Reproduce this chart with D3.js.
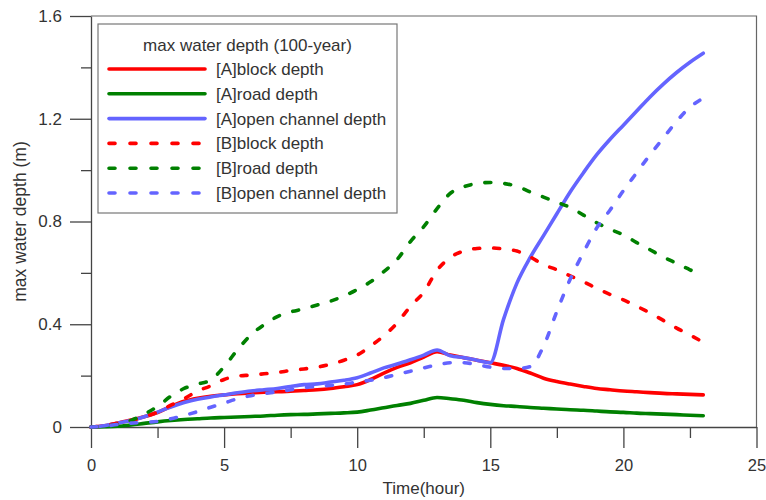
<!DOCTYPE html>
<html>
<head>
<meta charset="utf-8">
<script src="https://cdn.jsdelivr.net/npm/d3@7"></script>
<style>
  body { margin: 0; background: #fff; }
  text { font-family: "Liberation Sans", Arial, sans-serif; fill: #333; }
</style>
</head>
<body>
<div id="chart"></div>
<script>
// time in hours (half-hour steps)
var hours = [0,0.5,1,1.5,2,2.5,3,3.5,4,4.5,5,5.5,6,6.5,7,7.5,8,8.5,9,9.5,10,10.5,11,11.5,
             12,12.5,13,13.5,14,14.5,15,15.5,16,16.5,17,17.5,18,18.5,19,19.5,20,20.5,21,21.5,22,22.5,23];

var aBlock = [0,0.005,0.015,0.027,0.04,0.056,0.08,0.1,0.112,0.12,0.125,0.13,0.133,0.135,0.137,0.139,0.142,0.145,0.15,0.157,0.165,0.185,0.21,0.232,
              0.25,0.272,0.293,0.28,0.27,0.26,0.25,0.24,0.228,0.21,0.19,0.177,0.167,0.158,0.15,0.145,0.14,0.137,0.134,0.131,0.129,0.127,0.125];
var aRoad = [0,0.001,0.003,0.008,0.014,0.02,0.025,0.029,0.032,0.035,0.037,0.039,0.041,0.043,0.046,0.048,0.049,0.051,0.053,0.055,0.058,0.066,0.075,0.084,
             0.092,0.104,0.115,0.11,0.104,0.095,0.088,0.083,0.08,0.076,0.073,0.07,0.067,0.065,0.062,0.059,0.057,0.054,0.052,0.05,0.048,0.046,0.044];
var aChannel = [0,0.005,0.015,0.025,0.04,0.058,0.078,0.095,0.108,0.117,0.125,0.133,0.14,0.145,0.15,0.158,0.165,0.168,0.175,0.182,0.192,0.21,0.23,0.245,
                0.262,0.28,0.3,0.277,0.27,0.26,0.25,0.42,0.56,0.66,0.745,0.83,0.915,0.99,1.06,1.12,1.175,1.23,1.285,1.335,1.38,1.42,1.455];
var bBlock = [0,0.005,0.015,0.025,0.04,0.058,0.085,0.11,0.14,0.16,0.185,0.198,0.202,0.207,0.212,0.22,0.226,0.233,0.244,0.26,0.28,0.315,0.355,0.405,
              0.47,0.525,0.61,0.66,0.685,0.695,0.697,0.693,0.685,0.662,0.632,0.612,0.588,0.565,0.54,0.516,0.495,0.47,0.444,0.415,0.385,0.358,0.33];
var bRoad = [0,0.003,0.01,0.025,0.05,0.08,0.12,0.15,0.167,0.183,0.235,0.3,0.358,0.398,0.43,0.448,0.46,0.475,0.49,0.51,0.535,0.565,0.605,0.652,
             0.722,0.78,0.85,0.91,0.935,0.948,0.952,0.948,0.937,0.915,0.895,0.875,0.855,0.825,0.795,0.77,0.748,0.718,0.69,0.662,0.637,0.612,0.59];
var bChannel = [0,0.003,0.01,0.015,0.018,0.022,0.032,0.045,0.06,0.077,0.093,0.11,0.122,0.13,0.137,0.145,0.153,0.158,0.162,0.167,0.175,0.182,0.192,0.205,
                0.217,0.23,0.242,0.25,0.25,0.243,0.233,0.228,0.228,0.235,0.315,0.45,0.575,0.68,0.775,0.845,0.92,0.99,1.06,1.125,1.19,1.245,1.28];

var seriesNames = ["[A]block depth","[A]road depth","[A]open channel depth","[B]block depth","[B]road depth","[B]open channel depth"];
var seriesValues = [aBlock, aRoad, aChannel, bBlock, bRoad, bChannel];
var seriesColors = ["#ff0000","#008000","#6464ff","#ff0000","#008000","#6464ff"];
var seriesDashed = [false,false,false,true,true,true];

var xTicks = [0,5,10,15,20,25];
var xMinor = [2.5,7.5,12.5,17.5,22.5];
var yTicks = [0,0.4,0.8,1.2,1.6];
var yMinor = [0.2,0.6,1.0,1.4];

var margin = {top: 16, right: 9.5, bottom: 73, left: 91},
    width = 766 - margin.left - margin.right,
    height = 500 - margin.top - margin.bottom;

var svg = d3.select("#chart")
  .append("svg")
    .attr("width", 766)
    .attr("height", 500)
  .append("g")
    .attr("transform", "translate(" + margin.left + "," + margin.top + ")");

var x = d3.scaleLinear().domain([0, 25]).range([0, width]);
var y = d3.scaleLinear().domain([0, 1.6]).range([height, 0]);

// frame (top and right)
svg.append("path")
  .attr("d", "M0,0H" + width + "V" + height)
  .attr("fill", "none")
  .attr("stroke", "#666")
  .attr("stroke-width", 1.2);

// minor ticks
svg.append("g")
  .attr("transform", "translate(0," + height + ")")
  .call(d3.axisBottom(x).tickValues(xMinor).tickSize(11).tickFormat("").tickSizeOuter(0))
  .call(function(g) { g.select(".domain").remove(); });
svg.append("g")
  .call(d3.axisLeft(y).tickValues(yMinor).tickSize(10).tickFormat("").tickSizeOuter(0))
  .call(function(g) { g.select(".domain").remove(); });

// X axis
var xAxis = svg.append("g")
  .attr("transform", "translate(0," + height + ")")
  .call(d3.axisBottom(x).tickValues(xTicks).tickSize(21).tickPadding(11).tickSizeOuter(0));
xAxis.selectAll("text").style("font-size", "16.5px");

// Y axis
var yAxis = svg.append("g")
  .call(d3.axisLeft(y).tickValues(yTicks).tickSize(21).tickPadding(8).tickSizeOuter(0)
    .tickFormat(function(d) { return d === 0 ? "0" : d.toFixed(1); }));
yAxis.selectAll("text").style("font-size", "17px");

svg.selectAll(".tick line").attr("stroke", "#444").attr("stroke-width", 1.3);
svg.selectAll(".domain").attr("stroke", "#444").attr("stroke-width", 1.3);

// axis labels
svg.append("text")
  .attr("text-anchor", "middle")
  .attr("x", x(12.5))
  .attr("y", height + 67)
  .style("font-size", "17px")
  .text("Time(hour)");

svg.append("text")
  .attr("text-anchor", "middle")
  .attr("transform", "rotate(-90)")
  .attr("x", -(y(0.8)))
  .attr("y", -margin.left + 26)
  .style("font-size", "17.5px")
  .text("max water depth (m)");

// lines
var line = d3.line()
  .x(function(d) { return x(d[0]); })
  .y(function(d) { return y(d[1]); })
  .curve(d3.curveMonotoneX);

seriesValues.forEach(function(vals, i) {
  svg.append("path")
    .datum(hours.map(function(h, j) { return [h, vals[j]]; }))
    .attr("fill", "none")
    .attr("stroke", seriesColors[i])
    .attr("stroke-width", 3.6)
    .attr("stroke-linecap", "round")
    .attr("stroke-linejoin", "round")
    .attr("stroke-dasharray", seriesDashed[i] ? "6,14" : null)
    .attr("d", line);
});

// legend
var legend = svg.append("g").attr("transform", "translate(" + (98 - margin.left) + "," + (24 - margin.top) + ")");
legend.append("rect")
  .attr("width", 299)
  .attr("height", 189)
  .attr("fill", "#fff")
  .attr("stroke", "#777")
  .attr("stroke-width", 1.2);
legend.append("text")
  .attr("x", 149.5)
  .attr("y", 27)
  .attr("text-anchor", "middle")
  .style("font-size", "17px")
  .text("max water depth (100-year)");

seriesNames.forEach(function(name, i) {
  var ly = 45 + i * 24.8;
  legend.append("line")
    .attr("x1", 11).attr("x2", 107)
    .attr("y1", ly).attr("y2", ly)
    .attr("stroke", seriesColors[i])
    .attr("stroke-width", 3.6)
    .attr("stroke-linecap", "round")
    .attr("stroke-dasharray", seriesDashed[i] ? "6,15" : null);
  legend.append("text")
    .attr("x", 118)
    .attr("y", ly + 6)
    .style("font-size", "17px")
    .text(name);
});
</script>
</body>
</html>
